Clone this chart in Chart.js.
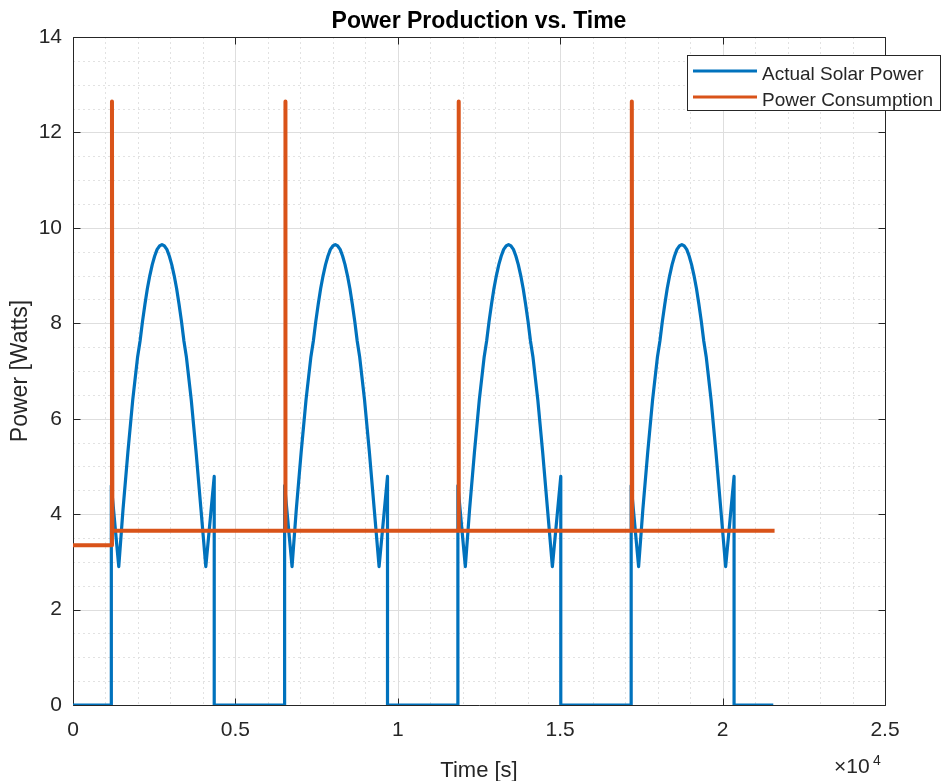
<!DOCTYPE html>
<html>
<head>
<meta charset="utf-8">
<title>Power Production vs. Time</title>
<script src="https://cdn.jsdelivr.net/npm/chart.js@4.4.1/dist/chart.umd.min.js"></script>
<style>
  html, body { margin: 0; padding: 0; background: #fff; }
  canvas { display: block; }
</style>
</head>
<body>
<canvas id="powerChart" width="946" height="781"></canvas>
<script>
// time in seconds, power in watts
const solarTime = [
  0,
  1180, 1180, 1409, 1540, 1690, 1840, 1990, 2065, 2140, 2215, 2290, 2365, 2440, 2515, 2590, 2665, 2740,
  2815, 2890, 2965, 3040, 3115, 3190, 3265, 3340, 3415, 3490, 3640, 3790, 3940, 4089, 4348, 4348,
  6515, 6515, 6744, 6875, 7025, 7175, 7325, 7400, 7475, 7550, 7625, 7700, 7775, 7850, 7925, 8000, 8075,
  8150, 8225, 8300, 8375, 8450, 8525, 8600, 8675, 8750, 8825, 8975, 9125, 9275, 9424, 9683, 9683,
  11850, 11850, 12079, 12210, 12360, 12510, 12660, 12735, 12810, 12885, 12960, 13035, 13110, 13185, 13260, 13335, 13410,
  13485, 13560, 13635, 13710, 13785, 13860, 13935, 14010, 14085, 14160, 14310, 14460, 14610, 14759, 15018, 15018,
  17185, 17185, 17414, 17545, 17695, 17845, 17995, 18070, 18145, 18220, 18295, 18370, 18445, 18520, 18595, 18670, 18745,
  18820, 18895, 18970, 19045, 19120, 19195, 19270, 19345, 19420, 19495, 19645, 19795, 19945, 20094, 20353, 20353,
  21560
];
const solarPower = [
  0,
  0, 4.6, 2.9, 4.1, 5.3, 6.4, 7.3, 7.63, 8.04, 8.4, 8.73, 9.0, 9.23, 9.41, 9.55, 9.62, 9.65,
  9.62, 9.55, 9.41, 9.23, 9.0, 8.73, 8.4, 8.04, 7.63, 7.3, 6.4, 5.3, 4.1, 2.9, 4.79, 0,
  0, 4.6, 2.9, 4.1, 5.3, 6.4, 7.3, 7.63, 8.04, 8.4, 8.73, 9.0, 9.23, 9.41, 9.55, 9.62, 9.65,
  9.62, 9.55, 9.41, 9.23, 9.0, 8.73, 8.4, 8.04, 7.63, 7.3, 6.4, 5.3, 4.1, 2.9, 4.79, 0,
  0, 4.6, 2.9, 4.1, 5.3, 6.4, 7.3, 7.63, 8.04, 8.4, 8.73, 9.0, 9.23, 9.41, 9.55, 9.62, 9.65,
  9.62, 9.55, 9.41, 9.23, 9.0, 8.73, 8.4, 8.04, 7.63, 7.3, 6.4, 5.3, 4.1, 2.9, 4.79, 0,
  0, 4.6, 2.9, 4.1, 5.3, 6.4, 7.3, 7.63, 8.04, 8.4, 8.73, 9.0, 9.23, 9.41, 9.55, 9.62, 9.65,
  9.62, 9.55, 9.41, 9.23, 9.0, 8.73, 8.4, 8.04, 7.63, 7.3, 6.4, 5.3, 4.1, 2.9, 4.79, 0,
  0
];
const loadTime = [0, 1200, 1200, 1212, 6535, 6535, 6547, 11870, 11870, 11882, 17205, 17205, 17217, 21600];
const loadPower = [3.35, 3.35, 12.65, 3.65, 3.65, 12.65, 3.65, 3.65, 12.65, 3.65, 3.65, 12.65, 3.65, 3.65];

const seriesLabels = ['Actual Solar Power', 'Power Consumption'];
const xMajorTicks = [0, 5000, 10000, 15000, 20000, 25000];
const yMajorTicks = [0, 2, 4, 6, 8, 10, 12, 14];

const FONT = "'Liberation Sans', Arial, Helvetica, sans-serif";
const INK = '#262626';
const BLUE = '#0072BD';
const ORANGE = '#D95319';

const toPoints = (xs, ys) => xs.map((t, i) => ({ x: t, y: ys[i] }));

// matlab-like axes: dotted minor grid, solid major grid, box with inward ticks
const matlabAxes = {
  id: 'matlabAxes',
  beforeDatasetsDraw(chart) {
    const { ctx, chartArea: a, scales: { x, y } } = chart;
    const px = v => Math.round(x.getPixelForValue(v)) + 0.5;
    const py = v => Math.round(y.getPixelForValue(v)) + 0.5;
    ctx.save();
    ctx.lineWidth = 1;

    ctx.strokeStyle = '#e2e2e2';
    ctx.setLineDash([2, 3]);
    ctx.beginPath();
    x.ticks.forEach(t => {
      if (xMajorTicks.includes(t.value)) return;
      ctx.moveTo(px(t.value), a.top); ctx.lineTo(px(t.value), a.bottom);
    });
    y.ticks.forEach(t => {
      if (yMajorTicks.includes(t.value)) return;
      ctx.moveTo(a.left, py(t.value)); ctx.lineTo(a.right, py(t.value));
    });
    ctx.stroke();

    ctx.setLineDash([]);
    ctx.strokeStyle = '#dedede';
    ctx.beginPath();
    xMajorTicks.forEach(v => { ctx.moveTo(px(v), a.top); ctx.lineTo(px(v), a.bottom); });
    yMajorTicks.forEach(v => { ctx.moveTo(a.left, py(v)); ctx.lineTo(a.right, py(v)); });
    ctx.stroke();

    ctx.strokeStyle = INK;
    ctx.beginPath();
    const L = px(0), R = px(25000), T = py(14), B = py(0);
    ctx.rect(L, T, R - L, B - T);
    xMajorTicks.forEach(v => {
      ctx.moveTo(px(v), B); ctx.lineTo(px(v), B - 7);
      ctx.moveTo(px(v), T); ctx.lineTo(px(v), T + 7);
    });
    yMajorTicks.forEach(v => {
      ctx.moveTo(L, py(v)); ctx.lineTo(L + 7, py(v));
      ctx.moveTo(R, py(v)); ctx.lineTo(R - 7, py(v));
    });
    ctx.stroke();
    ctx.restore();
  },
  afterDraw(chart) {
    const { ctx, chartArea: a } = chart;
    const cx = (a.left + a.right) / 2;
    ctx.save();
    ctx.fillStyle = '#000';
    ctx.textAlign = 'center';
    ctx.textBaseline = 'alphabetic';
    ctx.font = 'bold 23px ' + FONT;
    ctx.fillText('Power Production vs. Time', cx, 28);

    ctx.fillStyle = INK;
    ctx.font = '22px ' + FONT;
    ctx.fillText('Time [s]', cx, 777);

    ctx.save();
    ctx.font = '23px ' + FONT;
    ctx.translate(27, (a.top + a.bottom) / 2);
    ctx.rotate(-Math.PI / 2);
    ctx.fillText('Power [Watts]', 0, 0);
    ctx.restore();

    ctx.textAlign = 'left';
    ctx.font = '21px ' + FONT;
    ctx.fillText('\u00d710', 834, 773);
    ctx.font = '14px ' + FONT;
    ctx.fillText('4', 873, 765);

    // legend
    const lx = 687.5, ly = 55.5, lw = 253, lh = 55;
    ctx.fillStyle = '#fff';
    ctx.fillRect(lx, ly, lw, lh);
    ctx.strokeStyle = INK;
    ctx.lineWidth = 1;
    ctx.strokeRect(lx, ly, lw, lh);
    const rows = [{ c: BLUE, y: 71 }, { c: ORANGE, y: 97 }];
    ctx.font = '19px ' + FONT;
    rows.forEach((r, i) => {
      ctx.strokeStyle = r.c;
      ctx.lineWidth = 3;
      ctx.beginPath();
      ctx.moveTo(693, r.y); ctx.lineTo(757, r.y);
      ctx.stroke();
      ctx.fillStyle = INK;
      ctx.fillText(seriesLabels[i], 762, r.y + 9);
    });
    ctx.restore();
  }
};

new Chart(document.getElementById('powerChart'), {
  type: 'line',
  data: {
    datasets: [
      {
        label: seriesLabels[0],
        data: toPoints(solarTime, solarPower),
        borderColor: BLUE,
        borderWidth: 3.2,
        order: 2
      },
      {
        label: seriesLabels[1],
        data: toPoints(loadTime, loadPower),
        borderColor: ORANGE,
        borderWidth: 4,
        order: 1
      }
    ]
  },
  options: {
    responsive: false,
    animation: false,
    events: [],
    layout: { padding: { left: 0, right: 61, top: 37, bottom: 0 } },
    elements: {
      point: { radius: 0 },
      line: { tension: 0, borderJoinStyle: 'round', borderCapStyle: 'butt' }
    },
    plugins: {
      legend: { display: false },
      title: { display: false },
      tooltip: { enabled: false }
    },
    scales: {
      x: {
        type: 'linear',
        min: 0,
        max: 25000,
        grid: { display: false, drawTicks: false },
        border: { display: false },
        ticks: {
          stepSize: 1000,
          autoSkip: false,
          maxRotation: 0,
          padding: 13,
          color: INK,
          font: { family: FONT, size: 21 },
          callback: v => xMajorTicks.includes(v) ? String(v / 10000) : ''
        },
        afterFit: s => { s.height = 76; }
      },
      y: {
        min: 0,
        max: 14,
        grid: { display: false, drawTicks: false },
        border: { display: false },
        ticks: {
          stepSize: 0.5,
          autoSkip: false,
          padding: 11,
          color: INK,
          font: { family: FONT, size: 21 },
          callback: v => yMajorTicks.includes(v) ? String(v) : ''
        },
        afterFit: s => { s.width = 73; }
      }
    }
  },
  plugins: [matlabAxes]
});
</script>
</body>
</html>
